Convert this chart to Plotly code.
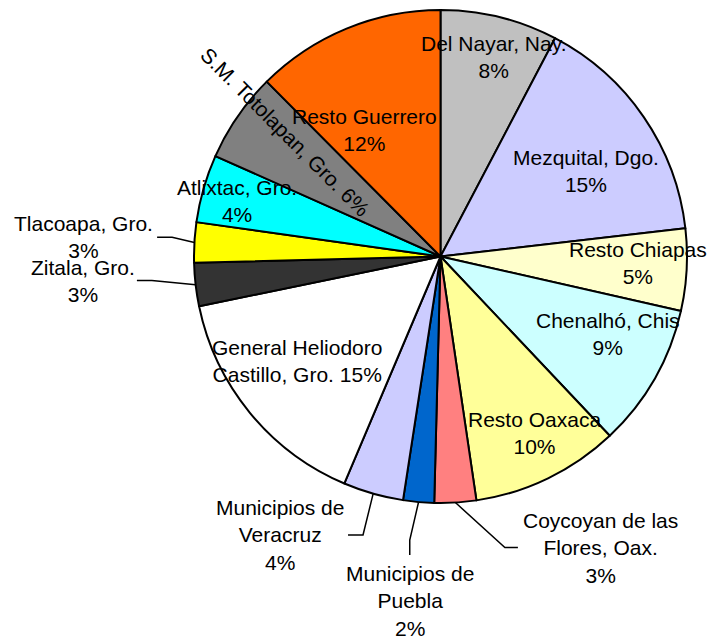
import math
import plotly.graph_objects as go

# ---------------- data ----------------
labels = ["Del Nayar, Nay.", "Mezquital, Dgo.", "Resto Chiapas", "Chenalhó, Chis",
          "Resto Oaxaca", "Coycoyan de las Flores, Oax.", "Municipios de Puebla",
          "Municipios de Veracruz", "General Heliodoro Castillo, Gro.", "Zitala, Gro.",
          "Tlacoapa, Gro.", "Atlixtac, Gro.", "S.M. Totolapan, Gro.", "Resto Guerrero"]
values = [7.6, 15.3, 5.3, 9.3, 9.6, 2.7, 2.0, 3.9, 15.2, 2.8, 2.6, 4.4, 5.8, 12.3]
colors = ["#C0C0C0", "#CCCCFF", "#FFFFCC", "#CCFFFF", "#FFFF99", "#FF8080", "#0066CC",
          "#CCCCFF", "#FFFFFF", "#333333", "#FFFF00", "#00FFFF", "#808080", "#FF6600"]
# how each label is broken into lines (display text)
label_display = ["Del Nayar, Nay.<br>", "Mezquital, Dgo.<br>", "Resto Chiapas<br>",
                 "Chenalhó, Chis<br>", "Resto Oaxaca<br>", "Coycoyan de las<br>Flores, Oax.<br>",
                 "Municipios de<br>Puebla<br>", "Municipios de<br>Veracruz<br>",
                 "General Heliodoro<br>Castillo, Gro. ", "Zitala, Gro.<br>", "Tlacoapa, Gro.<br>",
                 "Atlixtac, Gro.<br>", "S.M. Totolapan, Gro. ", "Resto Guerrero<br>"]

# ---------------- layout / style ----------------
W, H = 718, 637
CX, CY, R = 440.5, 256.5, 246.5          # pie centre and radius in pixels
FONT = dict(family="Liberation Sans, Arial, sans-serif", size=21, color="black")

# label placement: (radius fraction, angle offset from slice middle in deg, textangle, leader)
# leader: (side, gap px from label centre, elbow length px) or None
label_place = [
    (0.84, 1.2, 0, None),
    (0.685, 4.0, 0, None),
    (0.80, -1.1, 0, None),
    (0.75, -5.0, 0, None),
    (0.81, -2.2, 0, None),
    (1.348, -25.4, 0, ("left", 83, 13)),
    (1.403, 0.0, 0, ("top", 46, 15)),
    (1.304, 14.1, 0, ("right", 68, 15)),
    (0.72, 3.2, 0, None),
    (1.454, 2.7, 0, ("right", 54, 15)),
    (1.452, -0.2, 0, ("right", 74, 15)),
    (0.855, -0.8, 0, None),
    (0.81, 4.1, 45, None),
    (0.60, -8.6, 0, None),
]


def px2paper(x, y):
    return x / W, 1 - y / H


total = sum(values)
fig = go.Figure(go.Pie(
    labels=labels, values=values, sort=False, direction="clockwise", rotation=0,
    marker=dict(colors=colors, line=dict(color="black", width=2)),
    textinfo="none", hoverinfo="label+percent", showlegend=False,
    domain=dict(x=[(CX - R) / W, (CX + R) / W], y=[1 - (CY + R) / H, 1 - (CY - R) / H]),
))

annotations = []
shapes = []
cum = 0.0
for lab, val, disp, (rf, dang, tang, leader) in zip(labels, values, label_display, label_place):
    mid = (cum + val / 2) / total * 360.0
    cum += val
    pct = round(val / total * 100)
    text = f"{disp}{pct}%"
    th = math.radians(mid + dang)
    lx = CX + rf * R * math.sin(th)
    ly = CY - rf * R * math.cos(th)
    ax_, ay_ = px2paper(lx, ly)
    annotations.append(dict(x=ax_, y=ay_, xref="paper", yref="paper", text=text,
                            showarrow=False, xanchor="center", yanchor="middle",
                            align="center", font=FONT, textangle=tang))
    if leader:
        side, gap, elb = leader
        tm = math.radians(mid)
        sx, sy = CX + R * math.sin(tm), CY - R * math.cos(tm)
        if side == "left":
            ex, ey = lx - gap, ly
            bx, by = ex - elb, ey
        elif side == "right":
            ex, ey = lx + gap, ly
            bx, by = ex + elb, ey
        else:
            ex, ey = lx, ly - gap
            bx, by = ex, ey - elb
        pts = [px2paper(sx, sy), px2paper(bx, by), px2paper(ex, ey)]
        path = "M {:.5f},{:.5f} L {:.5f},{:.5f} L {:.5f},{:.5f}".format(
            pts[0][0], pts[0][1], pts[1][0], pts[1][1], pts[2][0], pts[2][1])
        shapes.append(dict(type="path", path=path, xref="paper", yref="paper",
                           line=dict(color="black", width=1.5)))

fig.update_layout(width=W, height=H, margin=dict(l=0, r=0, t=0, b=0),
                  paper_bgcolor="white", plot_bgcolor="white",
                  annotations=annotations, shapes=shapes, font=FONT)

fig.write_html("out.html", config={"displayModeBar": False},
               post_script="document.body.style.margin='0';")
